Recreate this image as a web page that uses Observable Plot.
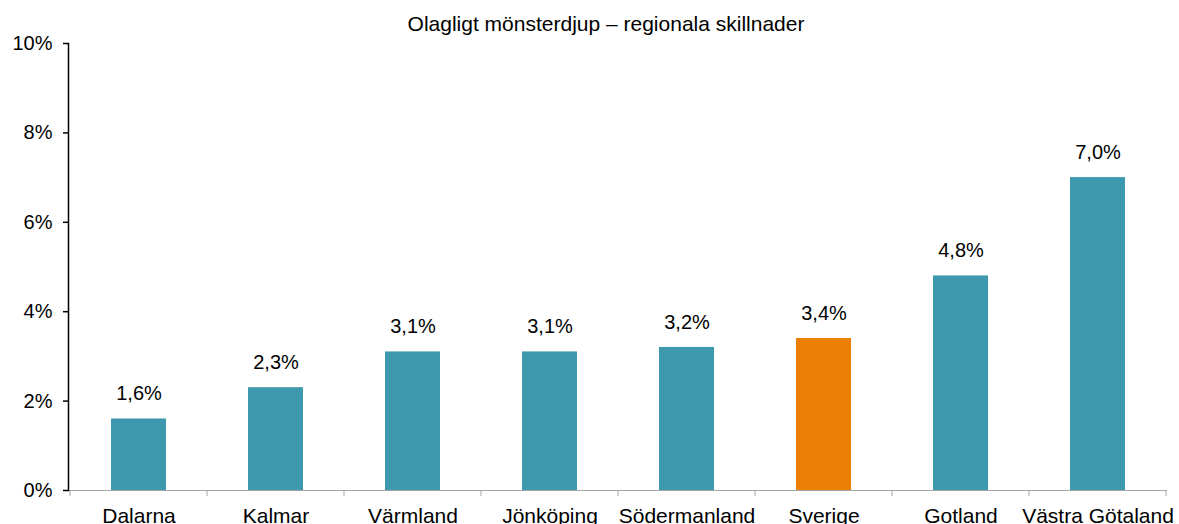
<!DOCTYPE html>
<html>
<head>
<meta charset="utf-8">
<script src="https://cdn.jsdelivr.net/npm/d3@7"></script>
<script src="https://cdn.jsdelivr.net/npm/@observablehq/plot@0.6"></script>
<style>
  html, body { margin: 0; padding: 0; background: #fff; }
  #chart svg { display: block; }
</style>
</head>
<body>
<div id="chart"></div>
<script>
const title = "Olagligt mönsterdjup – regionala skillnader";
const regions = ["Dalarna", "Kalmar", "Värmland", "Jönköping", "Södermanland", "Sverige", "Gotland", "Västra Götaland"];
const values = [1.6, 2.3, 3.1, 3.1, 3.2, 3.4, 4.8, 7.0];
const yTicks = [0, 2, 4, 6, 8, 10];
const highlight = "Sverige";

const data = regions.map((r, i) => ({region: r, value: values[i]}));
const fmt = v => v.toFixed(1).replace(".", ",") + "%";
const font = "'Liberation Sans', Arial, Helvetica, sans-serif";

function boundaryTicks(index, scales, vals, dimensions) {
  const x = scales.x;
  const bw = typeof x.bandwidth === "function" ? x.bandwidth() : x.bandwidth;
  const st = typeof x.step === "function" ? x.step() : x.step;
  const gap = (st - bw) / 2;
  const y0 = dimensions.height - dimensions.marginBottom;
  const xs = regions.map(r => x(r) - gap);
  xs.push(x(regions[regions.length - 1]) + bw + gap);
  const g = d3.create("svg:g");
  g.selectAll("line").data(xs).join("line")
    .attr("x1", d => d).attr("x2", d => d)
    .attr("y1", y0).attr("y2", y0 + 6)
    .attr("stroke", "#a6a6a6").attr("stroke-width", 1);
  return g.node();
}

const chart = Plot.plot({
  width: 1179,
  height: 524,
  marginLeft: 68,
  marginRight: 12,
  marginTop: 43,
  marginBottom: 34,
  style: {fontFamily: font, background: "#fff"},
  x: {domain: regions, paddingInner: 0.6, paddingOuter: 0.3, label: null},
  y: {domain: [0, 10], label: null},
  marks: [
    Plot.barY(data, {x: "region", y: "value", fill: d => d.region === highlight ? "#ec7f05" : "#3e98ae"}),
    Plot.ruleY([0], {stroke: "#a6a6a6", strokeWidth: 1}),
    boundaryTicks,
    Plot.frame({anchor: "left", stroke: "#000", strokeWidth: 1.5}),
    Plot.axisY({ticks: yTicks, tickSize: 5, tickPadding: 11, tickFormat: d => d + "%", fontSize: 20, fill: "#000", stroke: "#000", strokeWidth: 1.5, label: null}),
    Plot.axisX({tickSize: 0, tickPadding: 18, fontSize: 21, fill: "#000", label: null}),
    Plot.text(data, {x: "region", y: "value", text: d => fmt(d.value), dy: -25, fontSize: 20, fill: "#000", lineAnchor: "middle"}),
    Plot.text([title], {frameAnchor: "top", dx: -12, dy: -19, lineAnchor: "middle", fontSize: 21, fill: "#000"})
  ]
});
document.getElementById("chart").appendChild(chart);
</script>
</body>
</html>
